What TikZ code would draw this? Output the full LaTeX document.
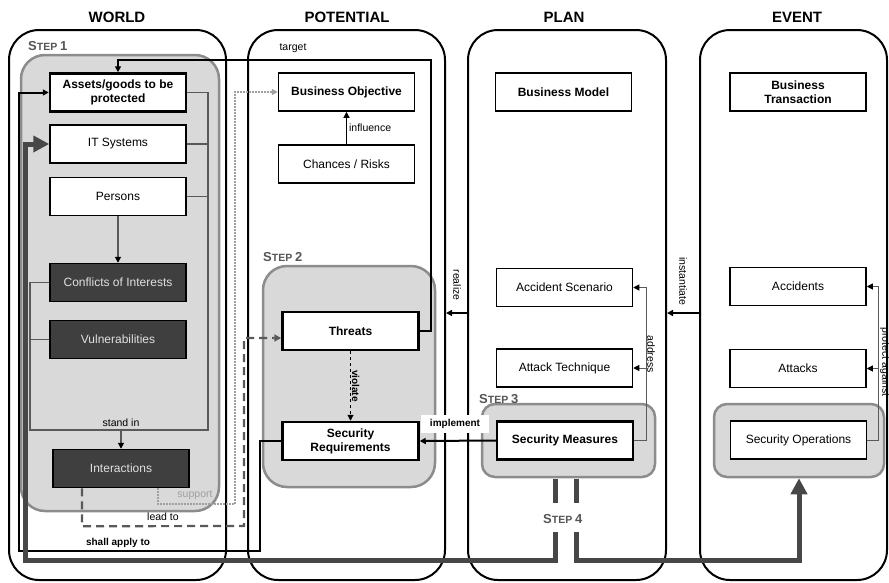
\documentclass[tikz,border=0pt]{standalone}
\usepackage{fontspec}
\setmainfont{Liberation Sans}
\usetikzlibrary{arrows.meta}
\definecolor{regionfill}{HTML}{D9D9D9}
\definecolor{regionedge}{HTML}{8C8C8C}
\definecolor{darkfill}{HTML}{3F3F3F}
\definecolor{steptext}{HTML}{555555}
\definecolor{stepgray}{HTML}{474747}
\definecolor{linkgray}{HTML}{595959}
\definecolor{supportgray}{HTML}{A0A0A0}
\newcommand{\stepname}[1]{{\fontsize{13}{13}\selectfont S}{\fontsize{10.5}{11}\selectfont TEP} {\fontsize{13}{13}\selectfont #1}}
\tikzset{
  panel/.style={draw,line width=2pt,rounded corners=30pt},
  region/.style={draw=regionedge,fill=regionfill,line width=2.5pt},
  box/.style={draw,fill=white,line width=1.5pt,minimum width=136pt,minimum height=38pt,
    inner sep=2pt,align=center,font=\fontsize{12}{14}\selectfont},
  boldbox/.style={box,font=\fontsize{12}{14}\selectfont\bfseries},
  keybox/.style={boldbox,line width=2.5pt},
  darkbox/.style={box,fill=darkfill,text=white!88!black},
  header/.style={font=\fontsize{15}{15}\selectfont\bfseries},
  lbl/.style={inner sep=1pt,font=\fontsize{10.5}{12}\selectfont},
  blbl/.style={inner sep=1pt,font=\fontsize{10}{12}\selectfont\bfseries},
  steplbl/.style={anchor=base west,inner sep=0pt,text=steptext,font=\bfseries},
  smalltip/.style={-{Triangle[length=6pt,width=6pt,color=black]}},
  flow/.style={line width=2pt,-{Triangle[length=6pt,width=6pt]}},
  link/.style={draw=linkgray,line width=1.2pt},
  leadline/.style={draw=linkgray,line width=2.2pt,dash pattern=on 8pt off 5pt,
    -{Triangle[length=7pt,width=7pt]}},
  supportline/.style={draw=supportgray,line width=1.5pt,dash pattern=on 1.5pt off 1.5pt,
    -{Triangle[length=6pt,width=6pt]}},
  s4line/.style={draw=stepgray,line width=5pt},
  s4tip/.style={-{Triangle[length=16pt,width=16pt]}},
}
\begin{document}
\begin{tikzpicture}[x=1pt,y=-1pt]
  \useasboundingbox (0,0) rectangle (889,582);
  % Columns
  \node[panel,minimum width=217pt,minimum height=550pt] (world) at (117.5,305) {};
  \node[panel,minimum width=197pt,minimum height=550pt] (potential) at (346.5,305) {};
  \node[panel,minimum width=198pt,minimum height=550pt] (plan) at (567,305) {};
  \node[panel,minimum width=187pt,minimum height=550pt] (event) at (793.5,305) {};
  \node[header] (hworld) at (117,17) {WORLD};
  \node[header] (hpotential) at (347,17) {POTENTIAL};
  \node[header] (hplan) at (564,17) {PLAN};
  \node[header] (hevent) at (797,17) {EVENT};

  % Steps
  \node[region,rounded corners=24pt,minimum width=198pt,minimum height=456pt] (step1reg) at (120,283) {};
  \node[region,rounded corners=24pt,minimum width=172pt,minimum height=221pt] (step2reg) at (349,376.5) {};
  \node[region,rounded corners=13pt,minimum width=173pt,minimum height=73pt] (step3reg) at (568.5,440.5) {};
  \node[region,rounded corners=13pt,minimum width=170pt,minimum height=73pt] (opsreg) at (799,440.5) {};
  \node[steplbl] (s1) at (28,50) {\stepname{1}};
  \node[steplbl] (s2) at (263,261) {\stepname{2}};
  \node[steplbl] (s3) at (479,403) {\stepname{3}};
  \node[steplbl] (s4) at (543,523) {\stepname{4}};

  % World
  \node[keybox] (assets) at (118,92.5) {Assets/goods to be\\protected};
  \node[box] (itsys) at (118,144) {IT Systems};
  \node[box] (persons) at (118,196.5) {Persons};
  \node[darkbox] (conflicts) at (118,282.5) {Conflicts of Interests};
  \node[darkbox] (vulner) at (118,339.5) {Vulnerabilities};
  \node[darkbox] (interact) at (121,468.5) {Interactions};
  % Potential
  \node[boldbox] (busobj) at (346.5,92) {Business Objective};
  \node[box] (chances) at (346.5,164) {Chances / Risks};
  \node[keybox] (threats) at (350.5,331) {Threats};
  \node[keybox] (secreq) at (350.5,441) {Security\\Requirements};
  % Plan
  \node[boldbox] (busmodel) at (563.5,92) {Business Model};
  \node[box] (accscen) at (564.5,287.5) {Accident Scenario};
  \node[box] (attech) at (564.5,368) {Attack Technique};
  \node[keybox] (secmeas) at (565,440.5) {Security Measures};
  % Event
  \node[boldbox] (bustrans) at (798,92) {Business\\Transaction};
  \node[box] (accidents) at (798,286.5) {Accidents};
  \node[box] (attacks) at (798,368.5) {Attacks};
  \node[box] (secops) at (798.5,440) {Security Operations};

  \path
    (208,430) coordinate (brkR)
    (30,430) coordinate (brkL)
    (431,60) coordinate (tgtR)
    (260,551) coordinate (applyA)
    (19,551) coordinate (applyB)
    (0,313) coordinate (relY)
    ([xshift=-39pt]interact.south) coordinate (leadA) ++(0,38) coordinate (leadB)
    (244,526) coordinate (leadC)
    (244,338) coordinate (leadD)
    ([xshift=37pt]interact.south) coordinate (supA)
    (235,504) coordinate (supB)
    (secmeas.east) ++(12,0) coordinate (addrB)
    (secops.east) ++(11,0) coordinate (protB)
    (555,479) coordinate (s4La) (555,503) coordinate (s4Lb)
    (555,532) coordinate (s4Lc) (555,560) coordinate (s4Ld)
    (576,479) coordinate (s4Ra) (576,503) coordinate (s4Rb)
    (576,532) coordinate (s4Rc) (576,560) coordinate (s4Rd)
    (25,560) coordinate (s4back)
  ;

  % Step 1 brackets
  \draw[link] (assets.east) -| (brkR) -- (brkL) |- (conflicts.west);
  \draw[link] (itsys.east) -- (itsys.east -| brkR);
  \draw[link] (persons.east) -- (persons.east -| brkR);
  \draw[link] (vulner.west) -- (vulner.west -| brkL);
  \draw[link,smalltip] (persons) -- (conflicts);
  \draw[link,smalltip] (interact.north |- brkR) node[lbl,above=2pt] (lblstand) {stand in} -- (interact.north);

  % Relations
  \draw[flow] (threats.east) -| (tgtR) -| (assets.north);
  \node[lbl] (lbltarget) at (293,48) {target};
  \draw[flow] (secreq.west) -| (applyA) -- (applyB) |- (assets.west);
  \node[blbl] (lblapply) at (118,543) {shall apply to};
  \draw[leadline] (leadA) -- (leadB) -- node[lbl,midway,above=3pt] (lbllead) {lead to} (leadC) -- (leadD) -- (leadD -| threats.west);
  \draw[supportline] (supA) |- (supB) |- (busobj.west);
  \node[lbl,text=supportgray] (lblsupport) at (195,495) {support};
  \draw[line width=1.2pt,smalltip] (chances) -- (busobj) node[lbl,midway,right=1pt] (lblinfl) {influence};
  \draw[dashed,line width=1pt,smalltip] (threats) -- (secreq) node[blbl,midway,rotate=-90,anchor=south] (lblviolate) {violate};
  \node[blbl,fill=white,inner xsep=9pt,inner ysep=4pt] (lblimpl) at (455,424) {implement};
  \draw[flow] (secmeas.west) -- (secreq.east);
  \draw[flow] (plan.west |- relY) -- (potential.east |- relY);
  \node[lbl,rotate=-90] (lblrealize) at (457,285) {realize};
  \draw[flow] (event.west |- relY) -- (plan.east |- relY);
  \node[lbl,rotate=-90] (lblinst) at (683,281) {instantiate};
  \draw[link,line width=1pt,smalltip] (secmeas.east) -- (addrB) |- (accscen.east);
  \draw[link,line width=1pt,smalltip] (attech.east -| addrB) -- (attech.east);
  \node[lbl,rotate=-90] (lbladdr) at (651,354) {address};
  \draw[link,line width=1pt,smalltip] (secops.east) -- (protB) |- (accidents.east);
  \draw[link,line width=1pt,smalltip] (attacks.east -| protB) -- (attacks.east);
  \node[lbl,rotate=-90] (lblprot) at (885,362) {protect against};

  % Step 4
  \draw[s4line] (s4La) -- (s4Lb);
  \draw[s4line,s4tip] (s4Lc) -- (s4Ld) -- (s4back) |- (itsys.west);
  \draw[s4line] (s4Ra) -- (s4Rb);
  \draw[s4line,s4tip] (s4Rc) -- (s4Rd) -| (opsreg.south);
\end{tikzpicture}
\end{document}
